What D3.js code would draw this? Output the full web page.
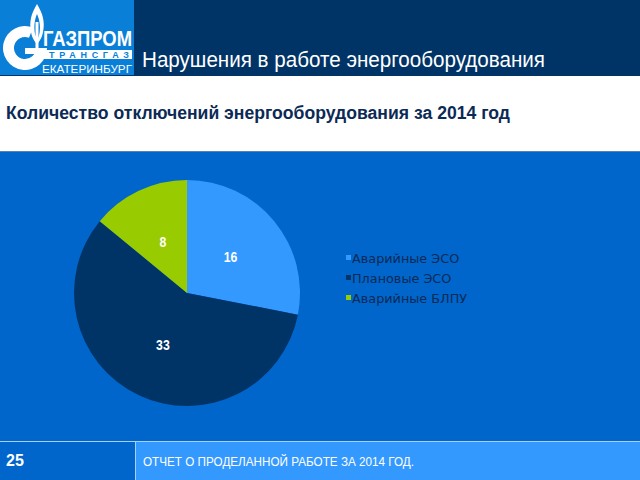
<!DOCTYPE html>
<html><head><meta charset="utf-8">
<script src="https://cdn.jsdelivr.net/npm/d3@7/dist/d3.min.js"></script>
<style>
html,body{margin:0;padding:0;background:#fff;}
svg{display:block;}
</style></head>
<body>
<script>
const categories = ["Аварийные ЭСО", "Плановые ЭСО", "Аварийные БЛПУ"];
const values = [16, 33, 8];
const colors = ["#3399ff", "#003366", "#99cc00"];
const titleText = "Нарушения в работе энергооборудования";
const subtitleText = "Количество отключений энергооборудования за 2014 год";
const footerText = "ОТЧЕТ О ПРОДЕЛАННОЙ РАБОТЕ ЗА 2014 ГОД.";
const pageNumber = "25";

const W = 640, H = 480;
const narrow = "'Liberation Sans Narrow','Arial Narrow','Liberation Sans',Arial,sans-serif";
const svg = d3.select("body").append("svg").attr("width", W).attr("height", H);

// background regions
svg.append("rect").attr("x",0).attr("y",0).attr("width",W).attr("height",H).attr("fill","#ffffff");
svg.append("rect").attr("x",0).attr("y",0).attr("width",W).attr("height",76).attr("fill","#003366");
svg.append("rect").attr("x",0).attr("y",151).attr("width",W).attr("height",290).attr("fill","#0066cc");
svg.append("rect").attr("x",0).attr("y",151).attr("width",W).attr("height",1).attr("fill","#5b7fae");
// footer
svg.append("rect").attr("x",0).attr("y",441).attr("width",W).attr("height",39).attr("fill","#3399ff");
svg.append("rect").attr("x",0).attr("y",441).attr("width",135).attr("height",39).attr("fill","#0066cc");
svg.append("line").attr("x1",0).attr("x2",W).attr("y1",441.5).attr("y2",441.5).attr("stroke","#a8d0f5").attr("stroke-width",1);
svg.append("line").attr("x1",135.5).attr("x2",135.5).attr("y1",441).attr("y2",480).attr("stroke","#a8d0f5").attr("stroke-width",1);

// logo
const logo = svg.append("g");
logo.append("rect").attr("x",0).attr("y",0).attr("width",134).attr("height",75).attr("fill","#0a7fd8");
const gArc = d3.arc().innerRadius(11).outerRadius(22).startAngle(Math.PI*0.5).endAngle(Math.PI*2.12);
logo.append("path").attr("d", gArc()).attr("transform","translate(25,48)").attr("fill","#ffffff");
logo.append("rect").attr("x",25).attr("y",48).attr("width",16).attr("height",6).attr("fill","#ffffff");
// flame
logo.append("path").attr("d","M37,4 C31,14 29,22 31,32 C32,38 35,42 37,44 C39,42 42,38 43,32 C45,22 43,14 37,4 Z").attr("fill","#ffffff");
logo.append("path").attr("d","M37,14 C34,21 34,28 35,34 C36,37 37,39 37,40 C38,38 39,36 39.5,33 C40.5,27 40,21 37,14 Z").attr("fill","#0a7fd8");
logo.append("rect").attr("x",35.5).attr("y",22).attr("width",3).attr("height",28).attr("fill","#ffffff");
logo.append("text").attr("x",43).attr("y",46).attr("font-family",narrow).attr("font-weight","bold")
  .attr("font-size",22).attr("fill","#ffffff").attr("textLength",89).attr("lengthAdjust","spacingAndGlyphs").text("ГАЗПРОМ");
logo.append("rect").attr("x",44).attr("y",50).attr("width",88).attr("height",9).attr("fill","#ffffff");
logo.append("text").attr("x",49).attr("y",58).attr("font-family",narrow).attr("font-weight","bold")
  .attr("font-size",9).attr("fill","#0a7fd8").attr("textLength",80).attr("lengthAdjust","spacing").text("ТРАНСГАЗ");
logo.append("text").attr("x",42).attr("y",72.5).attr("font-family",narrow)
  .attr("font-size",11.5).attr("fill","#ffffff").attr("textLength",90).attr("lengthAdjust","spacingAndGlyphs").text("ЕКАТЕРИНБУРГ");

// titles
svg.append("text").attr("x",142).attr("y",67).attr("font-family",narrow).attr("font-size",22)
  .attr("fill","#ffffff").attr("textLength",403).attr("lengthAdjust","spacingAndGlyphs").text(titleText);
svg.append("text").attr("x",6).attr("y",119).attr("font-family",narrow).attr("font-weight","bold").attr("font-size",18)
  .attr("fill","#0b2a55").attr("textLength",504).attr("lengthAdjust","spacingAndGlyphs").text(subtitleText);

// pie
const cx = 187, cy = 293, R = 113;
const pie = d3.pie().sort(null).value(d => d)(values);
const arc = d3.arc().innerRadius(0).outerRadius(R);
const gp = svg.append("g").attr("transform",`translate(${cx},${cy})`);
gp.selectAll("path").data(pie).join("path").attr("d",arc).attr("fill",(d,i)=>colors[i]);
gp.selectAll("text").data(pie).join("text")
  .attr("transform",d=>`translate(${arc.centroid(d)}) scale(0.82,1)`)
  .attr("text-anchor","middle").attr("dy","0.36em")
  .attr("font-family",narrow).attr("font-weight","bold").attr("font-size",15).attr("fill","#ffffff")
  .text(d=>d.data);

// legend
const lg = svg.append("g").attr("transform","translate(346,258)");
const rows = lg.selectAll("g").data(categories).join("g").attr("transform",(d,i)=>`translate(0,${i*20})`);
rows.append("rect").attr("x",0).attr("y",-3).attr("width",5).attr("height",5).attr("fill",(d,i)=>colors[i]);
rows.append("text").attr("x",6).attr("y",0).attr("dy","0.36em").attr("font-family","'DejaVu Sans',sans-serif")
  .attr("font-size",12.8).attr("fill","#0b2a55").text(d=>d);

// footer text
svg.append("text").attr("x",6).attr("y",466).attr("font-family",narrow).attr("font-weight","bold").attr("font-size",16)
  .attr("fill","#ffffff").text(pageNumber);
svg.append("text").attr("x",143).attr("y",466).attr("font-family",narrow).attr("font-size",12.5)
  .attr("fill","#ffffff").attr("textLength",271).attr("lengthAdjust","spacingAndGlyphs").text(footerText);
</script>
</body></html>
